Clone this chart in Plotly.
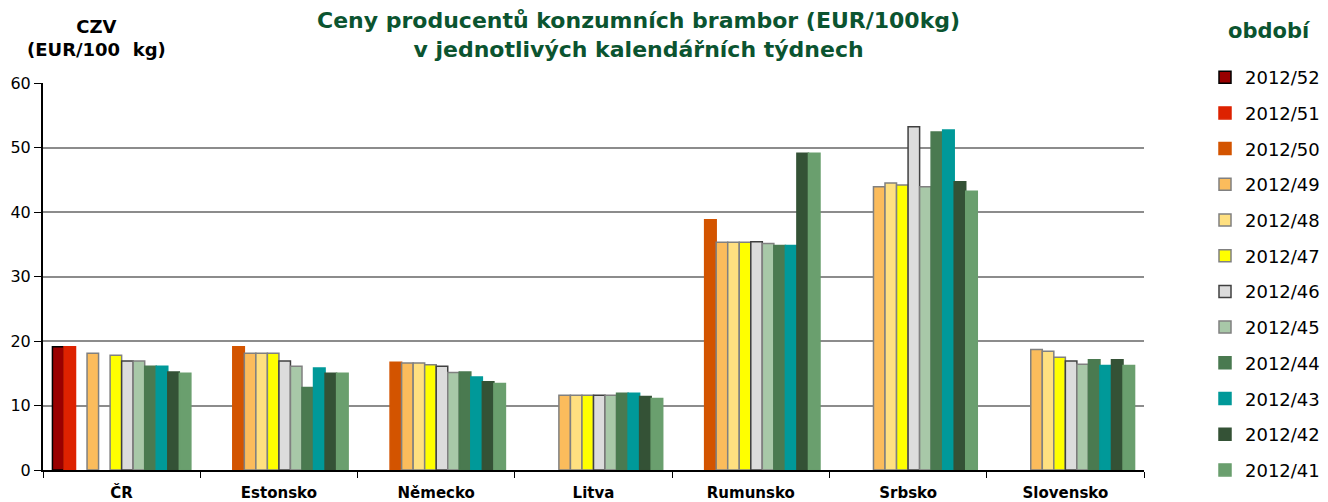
import plotly.graph_objects as go

countries = ["ČR", "Estonsko", "Německo", "Litva", "Rumunsko", "Srbsko", "Slovensko"]
periods = ["2012/52", "2012/51", "2012/50", "2012/49", "2012/48", "2012/47",
           "2012/46", "2012/45", "2012/44", "2012/43", "2012/42", "2012/41"]

w52 = [19.1, None, None, None, None, None, None]
w51 = [19.1, None, None, None, None, None, None]
w50 = [None, 19.1, 16.7, None, 38.8, None, None]
w49 = [18.1, 18.1, 16.6, 11.6, 35.3, 43.9, 18.7]
w48 = [None, 18.1, 16.6, 11.6, 35.3, 44.5, 18.4]
w47 = [17.8, 18.1, 16.3, 11.6, 35.3, 44.2, 17.5]
w46 = [16.9, 16.9, 16.1, 11.6, 35.4, 53.2, 16.9]
w45 = [16.9, 16.1, 15.1, 11.6, 35.1, 43.9, 16.4]
w44 = [16.1, 12.8, 15.2, 11.9, 34.8, 52.4, 17.1]
w43 = [16.1, 15.8, 14.4, 11.9, 34.8, 52.7, 16.2]
w42 = [15.2, 15.0, 13.7, 11.4, 49.1, 44.7, 17.1]
w41 = [15.0, 15.0, 13.4, 11.1, 49.1, 43.2, 16.2]

series = [w52, w51, w50, w49, w48, w47, w46, w45, w44, w43, w42, w41]
fills = ["#990000", "#DD2200", "#D35400", "#FBBC5C", "#FFE080", "#FFFF00",
         "#DCDCDC", "#A8C8A8", "#4A7A50", "#009999", "#345236", "#6A9F6E"]
lines = ["#000000", "#DD2200", "#D35400", "#808080", "#808080", "#808080",
         "#404040", "#808080", "#4A7A50", "#009999", "#345236", "#6A9F6E"]

FONT = "DejaVu Sans"

# page offset of the figure (browser default body margin)
OFF = 8
PL, PR, PT, PB = 43, 1144, 83, 470  # plot area in page pixels
PW, PH = PR - PL, PB - PT

def px(xp):
    return (xp - PL) / PW

def py(yp):
    return 1 + (PT - yp) / PH

fig = go.Figure()
for name, vals, fc, lc in zip(periods, series, fills, lines):
    fig.add_trace(go.Bar(
        x=countries, y=vals, name=name, legendgroup=name,
        marker=dict(color=fc, line=dict(color=lc, width=1.5)),
    ))

W, H = 1328 - OFF, 502 - OFF
fig.update_layout(
    width=W, height=H,
    margin=dict(l=PL - OFF, r=W - (PR - OFF), t=PT - OFF, b=H - (PB - OFF),
                autoexpand=False),
    paper_bgcolor="white", plot_bgcolor="white",
    barmode="group", bargap=0.12, bargroupgap=0,
    font=dict(family=FONT, size=16, color="#000000"),
    showlegend=True,
    legend=dict(
        x=px(1205), xanchor="left", y=py(59), yanchor="top",
        font=dict(family=FONT, size=18, color="#000000"),
        traceorder="grouped", tracegroupgap=9.3,
        bgcolor="rgba(0,0,0,0)", maxheight=480,
    ),
    xaxis=dict(
        type="category", showline=True, linecolor="#000000", linewidth=2,
        ticks="outside", tickson="boundaries", ticklen=6, tickcolor="#000000",
        tickfont=dict(family=FONT, size=15, color="#000000", weight="bold"),
        ticklabelstandoff=8,
        showgrid=False, fixedrange=True, automargin=False,
    ),
    yaxis=dict(
        range=[0, 60], dtick=10, showline=True, linecolor="#000000", linewidth=2,
        ticks="outside", ticklen=7, tickcolor="#000000",
        showgrid=True, gridcolor="#8C8C8C", gridwidth=1.5,
        tickfont=dict(family=FONT, size=16, color="#000000"),
        zeroline=False, automargin=False,
    ),
    annotations=[
        dict(text="<b>Ceny producentů konzumních brambor (EUR/100kg)<br>v jednotlivých kalendářních týdnech</b>",
             xref="paper", yref="paper", x=px(638), y=py(35),
             xanchor="center", yanchor="middle", showarrow=False,
             font=dict(family=FONT, size=22, color="#0B5430")),
        dict(text="<b>CZV<br>(EUR/100  kg)</b>",
             xref="paper", yref="paper", x=px(96), y=py(38),
             xanchor="center", yanchor="middle", showarrow=False,
             font=dict(family=FONT, size=18, color="#000000")),
        dict(text="<b>období</b>",
             xref="paper", yref="paper", x=px(1269), y=py(31),
             xanchor="center", yanchor="middle", showarrow=False,
             font=dict(family=FONT, size=21, color="#0B5430")),
    ],
)

fig.write_html("out.html")
